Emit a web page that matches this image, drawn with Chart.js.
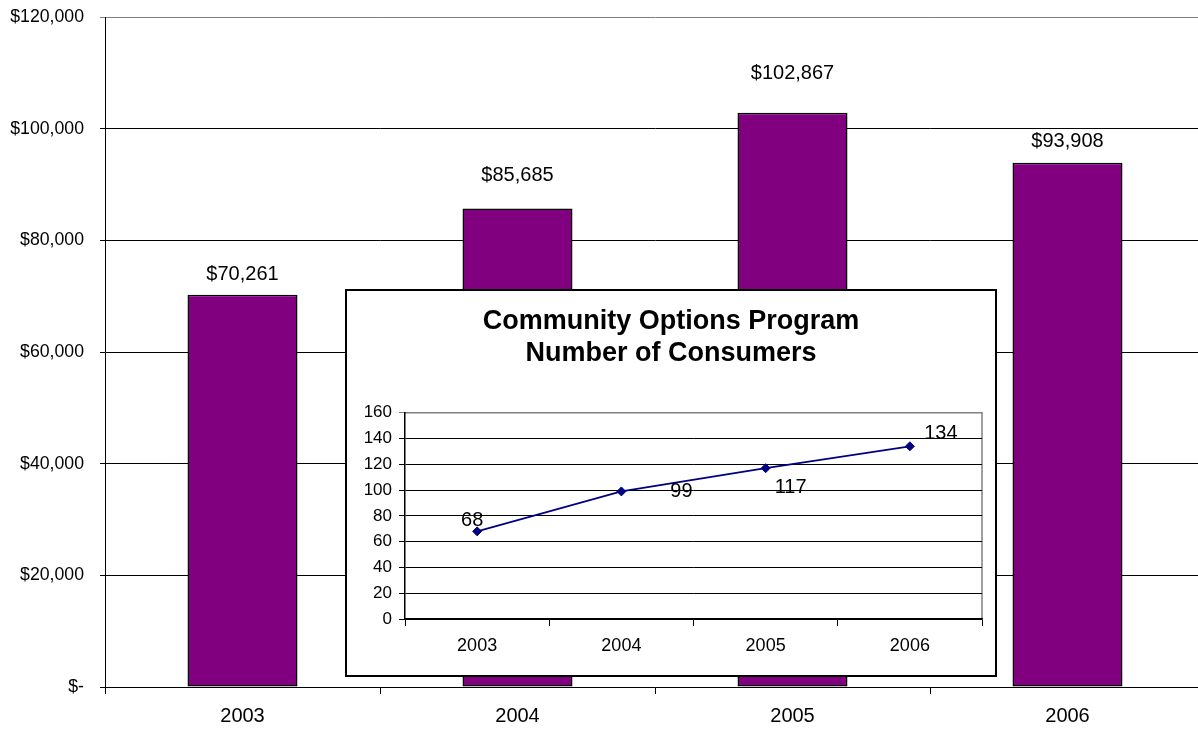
<!DOCTYPE html>
<html>
<head>
<meta charset="utf-8">
<script src="https://cdn.jsdelivr.net/npm/chart.js@4.4.1/dist/chart.umd.min.js"></script>
<style>
  html, body { margin: 0; padding: 0; background: #fff; overflow: hidden; }
  #wrap { position: relative; width: 1206px; height: 730px; }
  #costChart { position: absolute; left: 0; top: 0; }
  #inset {
    position: absolute; left: 345px; top: 289px;
    width: 652px; height: 388px;
    border: 2px solid #000; box-sizing: border-box; background: #fff;
  }
</style>
</head>
<body>
<div id="wrap">
  <canvas id="costChart" width="1206" height="730"></canvas>
  <div id="inset"><canvas id="consumerChart" width="648" height="384"></canvas></div>
</div>
<script>
const years = ["2003", "2004", "2005", "2006"];
const programCost = [70261, 85685, 102867, 93908];
const consumers = [68, 99, 117, 134];
const costAxis = { min: 0, max: 120000, step: 20000 };
const consumerAxis = { min: 0, max: 160, step: 20 };
const insetTitle = ["Community Options Program", "Number of Consumers"];

const FONT = '"Liberation Sans", Arial, sans-serif';

// label placement tweaks (pixels), kept apart from the values
const costLabelLift = [20, 33, 39, 21];
const consumerLabelShift = [[-5, -11], [60, 0], [25, 19], [31, -13]];

const money = v => v === 0 ? "$-" : "$" + v.toLocaleString("en-US");

const barLabels = {
  id: "barLabels",
  afterDatasetsDraw(chart) {
    const ctx = chart.ctx;
    const meta = chart.getDatasetMeta(0);
    ctx.save();
    ctx.font = "20px " + FONT;
    ctx.fillStyle = "#000";
    ctx.textAlign = "center";
    ctx.textBaseline = "middle";
    meta.data.forEach((bar, i) => {
      ctx.fillText(money(programCost[i]), bar.x, bar.y - costLabelLift[i]);
    });
    ctx.restore();
  }
};

new Chart(document.getElementById("costChart"), {
  type: "bar",
  data: {
    labels: years,
    datasets: [{
      data: programCost,
      backgroundColor: "#800080",
      borderColor: "#000",
      borderWidth: 1.5,
      borderSkipped: false,
      categoryPercentage: 1,
      barPercentage: 0.4
    }]
  },
  options: {
    responsive: false,
    devicePixelRatio: 1,
    animation: false,
    layout: { padding: { top: 17, left: 0, right: 1, bottom: 0 } },
    plugins: { legend: { display: false }, tooltip: { enabled: false } },
    scales: {
      x: {
        grid: { offset: true, drawOnChartArea: false, tickLength: 7, color: "#000" },
        border: { color: "#000", width: 1 },
        ticks: { font: { family: FONT, size: 20 }, color: "#000", padding: 10 },
        afterFit(scale) { scale.height = 43; }
      },
      y: {
        min: costAxis.min,
        max: costAxis.max,
        grid: {
          tickLength: 5,
          color: c => c.tick && c.tick.value === costAxis.max ? "#808080" : "#000"
        },
        border: { color: "#000", width: 1 },
        ticks: {
          stepSize: costAxis.step,
          font: { family: FONT, size: 17.7 },
          color: "#000",
          padding: 16,
          callback: v => money(v)
        },
        afterFit(scale) {
          scale.width = 105;
          // let the layout padding alone decide where the plot starts
          scale.paddingTop = 0;
          scale.paddingBottom = 0;
        }
      }
    }
  },
  plugins: [barLabels]
});

// gray frame on the top and right of the inset plot area
const plotFrame = {
  id: "plotFrame",
  beforeDraw(chart) {
    const { ctx, chartArea: a } = chart;
    ctx.save();
    ctx.strokeStyle = "#808080";
    ctx.lineWidth = 1.5;
    ctx.beginPath();
    ctx.moveTo(a.left, a.top);
    ctx.lineTo(a.right, a.top);
    ctx.lineTo(a.right, a.bottom);
    ctx.stroke();
    ctx.restore();
  }
};

const pointLabels = {
  id: "pointLabels",
  afterDatasetsDraw(chart) {
    const ctx = chart.ctx;
    const meta = chart.getDatasetMeta(0);
    ctx.save();
    ctx.font = "20px " + FONT;
    ctx.fillStyle = "#000";
    ctx.textAlign = "center";
    ctx.textBaseline = "middle";
    meta.data.forEach((pt, i) => {
      const [dx, dy] = consumerLabelShift[i];
      ctx.fillText(String(consumers[i]), pt.x + dx, pt.y + dy);
    });
    ctx.restore();
  }
};

new Chart(document.getElementById("consumerChart"), {
  type: "line",
  data: {
    labels: years,
    datasets: [{
      data: consumers,
      borderColor: "#000080",
      borderWidth: 1.8,
      backgroundColor: "#000080",
      pointStyle: "rectRot",
      pointRadius: 4.5,
      pointBorderWidth: 1,
      pointBorderColor: "#000080",
      pointBackgroundColor: "#000080",
      tension: 0
    }]
  },
  options: {
    responsive: false,
    devicePixelRatio: 1,
    animation: false,
    // equal side padding keeps the title centred in the box
    layout: { padding: { top: 0, left: 13, right: 13, bottom: 0 } },
    plugins: {
      legend: { display: false },
      tooltip: { enabled: false },
      title: {
        display: true,
        text: insetTitle,
        color: "#000",
        font: { family: FONT, size: 27, weight: "bold", lineHeight: 1.2 },
        padding: { top: 14, bottom: 43 }
      }
    },
    scales: {
      x: {
        offset: true,
        grid: { offset: true, drawOnChartArea: false, tickLength: 7, color: "#000" },
        border: { color: "#000", width: 1.5 },
        ticks: { font: { family: FONT, size: 18 }, color: "#000", padding: 9 },
        afterFit(scale) { scale.height = 56; }
      },
      y: {
        min: consumerAxis.min,
        max: consumerAxis.max,
        grid: {
          tickLength: 6,
          color: c => c.tick && c.tick.value === consumerAxis.max ? "#808080" : "#000"
        },
        border: { color: "#000", width: 1.5 },
        ticks: {
          stepSize: consumerAxis.step,
          font: { family: FONT, size: 17 },
          color: "#000",
          padding: 7
        },
        afterFit(scale) { scale.width = 45; }
      }
    }
  },
  plugins: [plotFrame, pointLabels]
});
</script>
</body>
</html>
